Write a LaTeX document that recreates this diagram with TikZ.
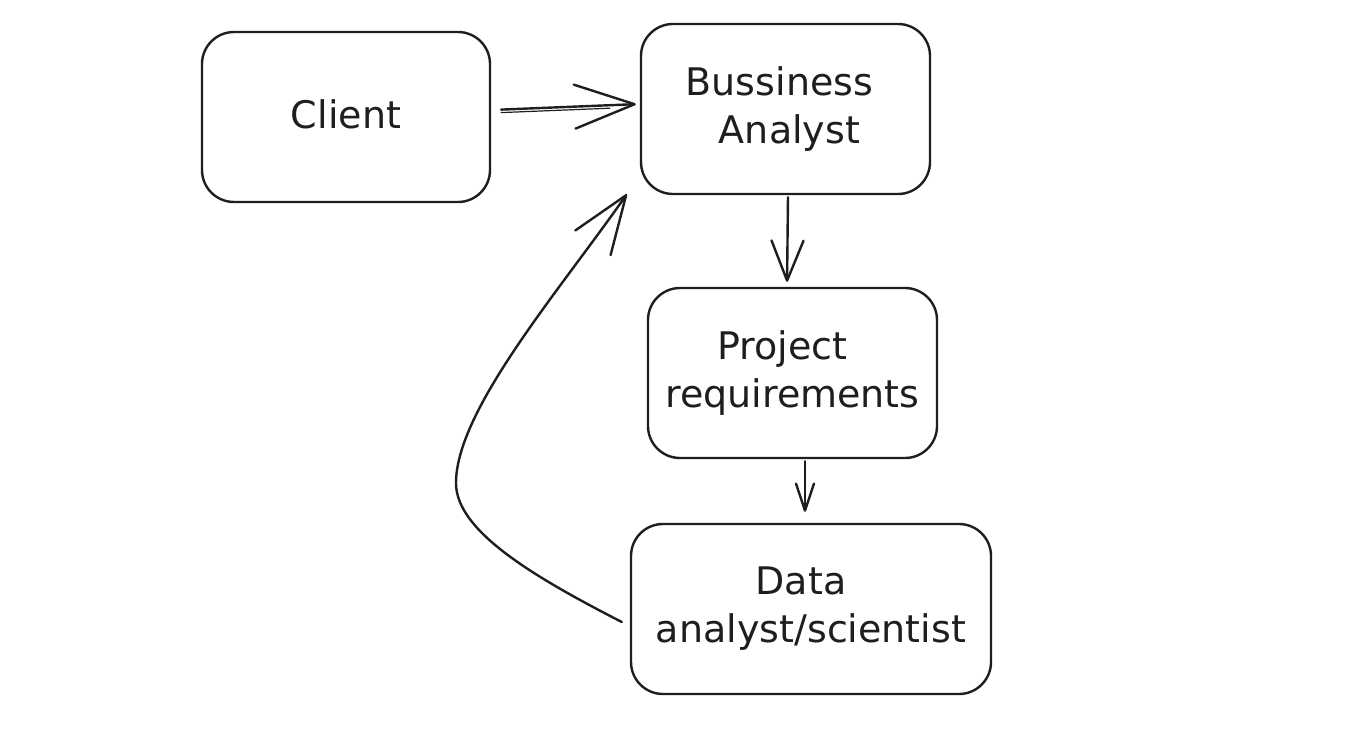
\documentclass[tikz,border=0pt]{standalone}
\usepackage{fontspec}
\setmainfont{DejaVu Sans}
\usetikzlibrary{arrows.meta}
\definecolor{ink}{HTML}{1E1E1E}
\tikzset{
  box/.style={draw=ink, line width=2.4pt, rounded corners=32pt, align=center,
    minimum height=170pt, inner sep=0pt, text=ink,
    font=\fontsize{38}{48}\selectfont},
  link/.style={draw=ink, line width=2.4pt, line cap=round, line join=round},
}
\begin{document}
\begin{tikzpicture}[x=1pt,y=-1pt]
\useasboundingbox[fill=white] (0,0) rectangle (1356,736);
\node[box, minimum width=288pt] (client) at (346,117) {\raisebox{5pt}{Client}};
\node[box, minimum width=289pt] (ba) at (785.5,109) {\hspace*{-12pt}Bussiness\\\hspace*{8pt}Analyst};
\node[box, minimum width=289pt] (pr) at (792.5,373) {\hspace*{-20pt}Project\\requirements};
\node[box, minimum width=360pt] (data) at (811,609) {\hspace*{-20pt}Data\\analyst/scientist};
% Client -> Business Analyst
\draw[link, -{Straight Barb[length=60pt,width=44pt,round]}, shorten <=10pt, shorten >=4pt]
  ([yshift=7pt]client.east) -- ([yshift=5pt]ba.west);
\draw[link, line width=1.2pt, shorten <=10pt, shorten >=30pt]
  ([yshift=4pt]client.east) -- ([yshift=2pt]ba.west);
% Business Analyst -> Project requirements
\draw[link, -{Straight Barb[length=40pt,width=32pt,round]}, shorten <=2pt, shorten >=5pt]
  ([xshift=2.5pt]ba.south) -- ([xshift=-5.5pt]pr.north);
% Project requirements -> Data
\draw[link, -{Straight Barb[length=27pt,width=18pt,round]}, shorten <=2pt, shorten >=11pt]
  ([xshift=12.5pt]pr.south) -- ([xshift=-6pt]data.north);
% Data -> Business Analyst (curve)
\coordinate (cs) at ([xshift=-8pt,yshift=-13pt]data.west);
\coordinate (ce) at ([xshift=-13pt,yshift=1pt]ba.south west);
\draw[link, -{Straight Barb[length=58pt,width=43pt,round]}]
  (cs) .. controls (530,575) and (456,530) .. (456,483)
       .. controls (456,410) and (560,290) .. (ce);
\end{tikzpicture}
\end{document}
